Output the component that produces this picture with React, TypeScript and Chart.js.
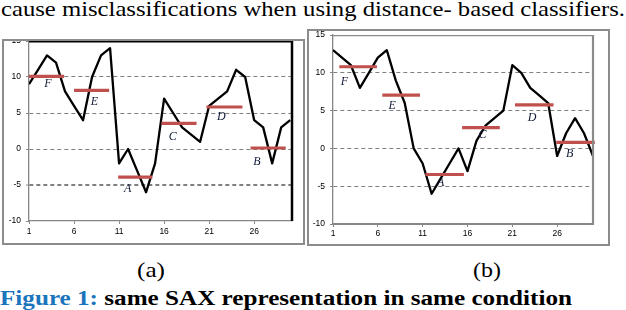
import React, { useEffect, useLayoutEffect, useRef } from 'react';
import { Chart, registerables } from 'chart.js';

Chart.register(...registerables);

// ---------------- data ----------------
const xTickValues = [1, 6, 11, 16, 21, 26];
const yTickValues = [-10, -5, 0, 5, 10, 15];
const dashedGridValues = [-5, 0, 5, 10];
const symbols = ['F', 'E', 'A', 'C', 'D', 'B'];

// chart (a)
const seriesA = [9, 11, 13, 12, 8, 6, 4, 10, 13, 14, -2, 0, -3, -6, -2, 7, 5, 3, 2, 1, 6, 7, 8, 11, 10, 4, 3, -2, 3, 4];
const segStartA = [1, 6, 10.9, 15.7, 20.7, 25.6];
const segEndA = [4.9, 9.9, 14.7, 19.6, 24.7, 29.5];
const segLevelA = [10.1, 8.15, -3.9, 3.57, 5.83, 0.14];
const symbolXA = [3.1, 8.26, 11.95, 16.95, 22.35, 26.3];
const symbolYA = [9.1, 6.5, -5.5, 1.75, 4.4, -1.85];

// chart (b)
const seriesB = [13, 12, 11, 8, 10, 12, 13, 9, 6, 0, -2, -6, -4, -2, 0, -3, 1, 3, 4, 5, 11, 10, 8, 7, 6, -1, 2, 4, 2, -1];
const segStartB = [1.7, 6.5, 11.3, 15.4, 21.3, 25.9];
const segEndB = [5.9, 10.7, 15.6, 19.6, 25.6, 30.2];
const segLevelB = [10.8, 7.05, -3.45, 2.75, 5.75, 0.8];
const symbolXB = [2.26, 7.6, 13.0, 17.67, 23.2, 27.4];
const symbolYB = [8.8, 5.57, -4.6, 1.78, 4.0, -0.76];

// ---------------- texts ----------------
const topText = 'cause misclassifications when using distance- based classifiers.';
const captionLabel = 'Figure 1:';
const captionText = ' same SAX representation in same condition';

// ---------------- chart ----------------
const overlayPlugin = {
  id: 'saxOverlay',
  afterDatasetsDraw(chart: any, _args: any, opts: any) {
    const { ctx, chartArea: ca, scales } = chart;
    const x = scales.x;
    const y = scales.y;
    ctx.save();
    ctx.strokeStyle = opts.edgeColor;
    ctx.lineWidth = opts.topWidth;
    ctx.beginPath();
    ctx.moveTo(ca.left, ca.top + opts.topWidth / 2);
    ctx.lineTo(ca.right, ca.top + opts.topWidth / 2);
    ctx.stroke();
    ctx.lineWidth = opts.rightWidth;
    ctx.beginPath();
    ctx.moveTo(ca.right, ca.top);
    ctx.lineTo(ca.right, ca.bottom);
    ctx.stroke();

    ctx.font = 'italic 12px "Liberation Serif", serif';
    ctx.fillStyle = '#101a38';
    ctx.textAlign = 'center';
    ctx.textBaseline = 'middle';
    opts.symbols.forEach((s: string, i: number) => {
      ctx.fillText(s, x.getPixelForValue(opts.sx[i]), y.getPixelForValue(opts.sy[i]));
    });
    ctx.restore();
  },
};

function buildConfig(c: any): any {
  const bars = c.segStart.map((s: number, i: number) => ({
    data: [
      { x: s, y: c.segLevel[i] },
      { x: c.segEnd[i], y: c.segLevel[i] },
    ],
    borderColor: '#C0504D',
    borderWidth: 3.2,
    borderCapStyle: 'butt',
    pointRadius: 0,
    clip: false,
  }));
  const line = {
    data: c.series.map((v: number, i: number) => ({ x: i + 1, y: v })),
    borderColor: '#000000',
    borderWidth: 2.3,
    borderJoinStyle: 'round',
    pointRadius: 0,
    tension: 0,
  };
  const tickFont = { family: '"Liberation Sans", Arial, sans-serif', size: 8.5 };
  return {
    type: 'line',
    data: { datasets: [...bars, line] },
    options: {
      responsive: false,
      maintainAspectRatio: false,
      animation: false,
      devicePixelRatio: 1,
      layout: { padding: c.padding },
      plugins: {
        legend: { display: false },
        tooltip: { enabled: false },
        saxOverlay: {
          edgeColor: c.edgeColor,
          topWidth: c.topWidth,
          rightWidth: c.rightWidth,
          symbols,
          sx: c.symbolX,
          sy: c.symbolY,
        },
      },
      scales: {
        x: {
          type: 'linear',
          min: 1,
          max: c.xMax,
          afterBuildTicks: (sc: any) => {
            sc.ticks = xTickValues.map((v) => ({ value: v }));
          },
          afterFit: (sc: any) => {
            sc.height = c.xAxisHeight;
            sc.paddingLeft = 0;
            sc.paddingRight = 0;
          },
          grid: {
            display: true,
            drawOnChartArea: false,
            drawTicks: true,
            tickLength: 3,
            tickColor: '#868686',
            tickWidth: 1,
          },
          border: { display: true, color: '#868686', width: c.xAxisLineWidth },
          ticks: {
            color: '#000',
            font: tickFont,
            padding: c.xTickPad,
            maxRotation: 0,
            autoSkip: false,
            callback: (v: any) => String(v),
          },
        },
        y: {
          type: 'linear',
          min: -10,
          max: 15,
          afterBuildTicks: (sc: any) => {
            sc.ticks = yTickValues.map((v) => ({ value: v }));
          },
          afterFit: (sc: any) => {
            sc.width = c.yAxisWidth;
            sc.paddingTop = 0;
            sc.paddingBottom = 0;
          },
          grid: {
            display: true,
            drawOnChartArea: true,
            drawTicks: true,
            tickLength: 3,
            tickColor: '#868686',
            tickWidth: 1,
            tickBorderDash: [],
            color: (ctx: any) =>
              ctx.tick && dashedGridValues.includes(ctx.tick.value) ? '#808080' : 'rgba(0,0,0,0)',
            lineWidth: (ctx: any) =>
              ctx.tick && ctx.tick.value === c.thickGridValue ? 2 : 1,
          },
          border: { display: true, color: '#868686', width: 1.3, dash: [4, 3] },
          ticks: {
            color: '#000',
            font: tickFont,
            padding: 5,
            callback: (v: any) => String(v),
          },
        },
      },
    },
    plugins: [overlayPlugin],
  };
}

const chartA = {
  left: 4, top: 41, w: 299, h: 202,
  padding: { left: 0, top: 0, right: 11, bottom: 2 },
  yAxisWidth: 25, xAxisHeight: 20, xMax: 30.2,
  series: seriesA, segStart: segStartA, segEnd: segEndA, segLevel: segLevelA,
  symbolX: symbolXA, symbolY: symbolYA,
  edgeColor: '#000000', topWidth: 1.5, rightWidth: 2.5, xAxisLineWidth: 1.3, xTickPad: 3,
  thickGridValue: -5,
};

const chartB = {
  left: 309, top: 31, w: 299, h: 213,
  padding: { left: 0, top: 4, right: 15, bottom: 0 },
  yAxisWidth: 24, xAxisHeight: 20, xMax: 30,
  series: seriesB, segStart: segStartB, segEnd: segEndB, segLevel: segLevelB,
  symbolX: symbolXB, symbolY: symbolYB,
  edgeColor: '#8a8a8a', topWidth: 1.3, rightWidth: 2.2, xAxisLineWidth: 2, xTickPad: 2,
  thickGridValue: null,
};

function SaxChart({ c }: { c: any }) {
  const ref = useRef<HTMLCanvasElement>(null);
  useEffect(() => {
    if (!ref.current) return;
    const chart = new Chart(ref.current, buildConfig(c));
    return () => chart.destroy();
  }, []);
  return (
    <canvas
      ref={ref}
      width={c.w}
      height={c.h}
      style={{ position: 'absolute', left: c.left, top: c.top, width: c.w, height: c.h, display: 'block' }}
    />
  );
}

function FitText({ x, baseline, size, width, weight, children }: any) {
  const ref = useRef<HTMLDivElement>(null);
  useLayoutEffect(() => {
    const el = ref.current;
    if (!el) return;
    el.style.transform = 'none';
    const w = el.getBoundingClientRect().width;
    if (w > 0) el.style.transform = `scaleX(${width / w})`;
  }, []);
  return (
    <div
      ref={ref}
      style={{
        position: 'absolute',
        left: x,
        top: baseline - 0.8375 * size,
        fontFamily: '"Liberation Serif", "Times New Roman", serif',
        fontSize: size,
        lineHeight: 1,
        fontWeight: weight || 'normal',
        whiteSpace: 'pre',
        transformOrigin: '0 0',
        color: '#000',
      }}
    >
      {children}
    </div>
  );
}

export default function App() {
  return (
    <div
      style={{
        position: 'absolute',
        left: 0,
        top: 0,
        width: 626,
        height: 310,
        overflow: 'hidden',
        background: '#fff',
      }}
    >
      <FitText x={1} baseline={17} size={21.5} width={624}>{topText}</FitText>

      <SaxChart c={chartA} />
      <SaxChart c={chartB} />

      <div style={{ position: 'absolute', left: 2, top: 39, width: 303, height: 206, border: '2px solid #8c8c8c', boxSizing: 'border-box', pointerEvents: 'none' }} />
      <div style={{ position: 'absolute', left: 307, top: 29, width: 303, height: 217, border: '2px solid #8c8c8c', boxSizing: 'border-box', pointerEvents: 'none' }} />

      <FitText x={137} baseline={278} size={21} width={28}>(a)</FitText>
      <FitText x={472.7} baseline={278} size={21} width={28}>(b)</FitText>

      <FitText x={0} baseline={305} size={20} width={572} weight="bold">
        <span style={{ color: '#1b75bc' }}>{captionLabel}</span>
        <span>{captionText}</span>
      </FitText>
    </div>
  );
}
